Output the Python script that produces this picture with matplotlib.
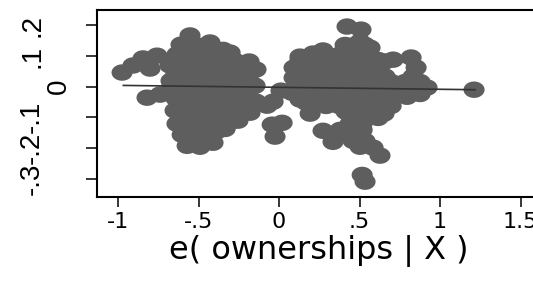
import numpy as np
import matplotlib.pyplot as plt
from matplotlib.path import Path

# residuals
x_left = [-0.975, -0.907, -0.845, -0.758, -0.801, -0.820, -0.739,
          -0.553, -0.609, -0.522, -0.429, -0.634, -0.553, -0.472, -0.391, -0.304,
          -0.677, -0.596, -0.516, -0.435, -0.354, -0.267, -0.186,
          -0.646, -0.615, -0.534, -0.453, -0.373, -0.292, -0.211, -0.143,
          -0.665, -0.634, -0.553, -0.472, -0.391, -0.311, -0.230, -0.149,
          -0.640, -0.559, -0.478, -0.398, -0.317, -0.236, -0.143,
          -0.646, -0.596, -0.516, -0.435, -0.354, -0.273, -0.180,
          -0.634, -0.553, -0.472, -0.391, -0.311, -0.255,
          -0.602, -0.522, -0.441, -0.391,
          -0.571, -0.491, -0.410,
          -0.590, -0.509, -0.429, -0.348,
          -0.634, -0.553, -0.472, -0.391, -0.311, -0.230,
          -0.671, -0.590, -0.509, -0.429, -0.348, -0.267, -0.186,
          -0.677, -0.596, -0.516, -0.435, -0.354, -0.273, -0.193,
          -0.615, -0.534, -0.453, -0.373, -0.292, -0.211,
          -0.596, -0.516, -0.435, -0.354, -0.273,
          -0.578, -0.497, -0.416, -0.335,
          -0.553, -0.472]
y_left = [0.046, 0.069, 0.092, 0.101, 0.059, -0.036, -0.026,
          0.167, 0.137, 0.137, 0.144, 0.105, 0.105, 0.105, 0.105, 0.111,
          0.069, 0.078, 0.078, 0.078, 0.078, 0.082, 0.082,
          0.033, 0.039, 0.039, 0.039, 0.039, 0.039, 0.046, 0.056,
          0.003, 0.000, 0.000, 0.000, 0.000, 0.000, 0.000, 0.003,
          -0.039, -0.039, -0.039, -0.039, -0.039, -0.039, -0.049,
          -0.078, -0.078, -0.078, -0.078, -0.078, -0.078, -0.085,
          -0.121, -0.118, -0.118, -0.118, -0.118, -0.111,
          -0.157, -0.154, -0.154, -0.147,
          -0.193, -0.196, -0.183,
          0.120, 0.120, 0.120, 0.120,
          0.054, 0.054, 0.054, 0.054, 0.054, 0.054,
          0.019, 0.019, 0.019, 0.019, 0.019, 0.019, 0.019,
          -0.021, -0.021, -0.021, -0.021, -0.021, -0.021, -0.021,
          -0.060, -0.060, -0.060, -0.060, -0.060, -0.060,
          -0.099, -0.099, -0.099, -0.099, -0.099,
          -0.138, -0.138, -0.138, -0.138,
          -0.177, -0.177]

x_mid = [-0.075, -0.037, 0.012, 0.081, 0.130, -0.043, 0.019, -0.025]
y_mid = [-0.062, -0.049, -0.013, -0.020, -0.042, -0.124, -0.118, -0.163]

x_right = [0.422, 0.509, 0.503, 0.565,
           0.130, 0.211, 0.273, 0.379, 0.472, 0.553,
           0.093, 0.174, 0.255, 0.335, 0.416, 0.497, 0.578, 0.658,
           0.093, 0.174, 0.255, 0.335, 0.416, 0.497, 0.578, 0.658, 0.832,
           0.106, 0.193, 0.273, 0.354, 0.435, 0.516, 0.596, 0.677, 0.758, 0.839, 0.919,
           0.168, 0.255, 0.335, 0.416, 0.497, 0.578, 0.658, 0.795,
           0.193, 0.416, 0.497, 0.578, 0.652,
           0.441, 0.516, 0.273, 0.335, 0.422, 0.478,
           0.503, 0.584, 0.627, 0.516, 0.534,
           0.708, 0.820, 0.851, 0.609, 1.211,
           0.410, 0.472, 0.534,
           0.130, 0.211, 0.292, 0.373, 0.453, 0.534, 0.615,
           0.130, 0.211, 0.292, 0.373, 0.453, 0.534, 0.615,
           0.130, 0.211, 0.292, 0.373, 0.453, 0.534, 0.615, 0.696, 0.783, 0.876,
           0.149, 0.230, 0.311, 0.391, 0.472, 0.553, 0.634, 0.714, 0.876,
           0.211, 0.292, 0.373, 0.453, 0.534, 0.615, 0.696,
           0.453, 0.534, 0.615,
           0.379, 0.472, 0.516,
           0.460, 0.534]
y_right = [0.196, 0.186, 0.147, 0.127,
           0.098, 0.108, 0.118, 0.105, 0.111, 0.105,
           0.062, 0.072, 0.072, 0.072, 0.072, 0.072, 0.078, 0.082,
           0.029, 0.033, 0.033, 0.033, 0.033, 0.033, 0.033, 0.033, 0.033,
           0.003, -0.003, -0.003, -0.003, -0.003, -0.003, -0.003, -0.003, -0.003, -0.003, -0.003,
           -0.052, -0.042, -0.042, -0.042, -0.042, -0.042, -0.042, -0.033,
           -0.088, -0.082, -0.082, -0.082, -0.088,
           -0.121, -0.121, -0.144, -0.180, -0.150, -0.157,
           -0.196, -0.199, -0.225, -0.288, -0.310,
           0.088, 0.095, 0.062, -0.052, -0.010,
           0.136, 0.136, 0.136,
           0.087, 0.087, 0.087, 0.087, 0.087, 0.087, 0.087,
           0.051, 0.051, 0.051, 0.051, 0.051, 0.051, 0.051,
           0.015, 0.015, 0.015, 0.015, 0.015, 0.015, 0.015, 0.015, 0.015, 0.015,
           -0.024, -0.024, -0.024, -0.024, -0.024, -0.024, -0.024, -0.024, -0.024,
           -0.063, -0.063, -0.063, -0.063, -0.063, -0.063, -0.063,
           -0.102, -0.102, -0.102,
           -0.141, -0.141, -0.141,
           -0.177, -0.177]

# fitted line ends
fit_x = [-0.967, 1.217]
fit_y = [0.004, -0.010]

xticks = [-1, -0.5, 0, 0.5, 1, 1.5]
xticklabels = ['-1', '-.5', '0', '.5', '1', '1.5']
yticks = [-0.3, -0.2, -0.1, 0, 0.1, 0.2]
yticklabels = ['-.3', '-.2', '-.1', '0', '.1', '.2']

ex = np.concatenate([x_left, x_mid, x_right])
ey = np.concatenate([y_left, y_mid, y_right])

# slightly wide oval marker, like the stretched stata output
t = np.linspace(0, 2 * np.pi, 60)
oval = Path(np.column_stack([np.cos(t), 0.78 * np.sin(t)]), closed=True)

fig = plt.figure(figsize=(5.33, 2.81), dpi=100)
ax = fig.add_axes([0.1826, 0.2989, 0.8325, 0.6655])

ax.scatter(ex, ey, s=230, marker=oval, color='#5e5e5e', edgecolors='none', zorder=2)
ax.plot(fit_x, fit_y, color='#333333', lw=1.2, zorder=3)

ax.set_xlim(-1.1286, 1.627)
ax.set_ylim(-0.360, 0.250)

ax.set_xticks(xticks)
ax.set_xticklabels(xticklabels, fontsize=16)
ax.tick_params(axis='x', length=7, width=1.1, pad=4)
ax.set_yticks(yticks)
ax.set_yticklabels([])
ax.tick_params(axis='y', length=8, width=1.1)

# stata put the rotated y labels at uneven distances
for v, s in zip(yticks, yticklabels):
    off = -18 if s == '0' else -37.5
    ax.annotate(s, xy=(0, v), xycoords=ax.get_yaxis_transform(),
                xytext=(off, 0), textcoords='offset points',
                rotation=90, ha='right', va='center', fontsize=20,
                family='Liberation Sans')

ax.set_xlabel('e( ownerships | X )', fontsize=23, labelpad=2)

for sp in ax.spines.values():
    sp.set_linewidth(1.5)

fig.savefig('out.png', dpi=100)
